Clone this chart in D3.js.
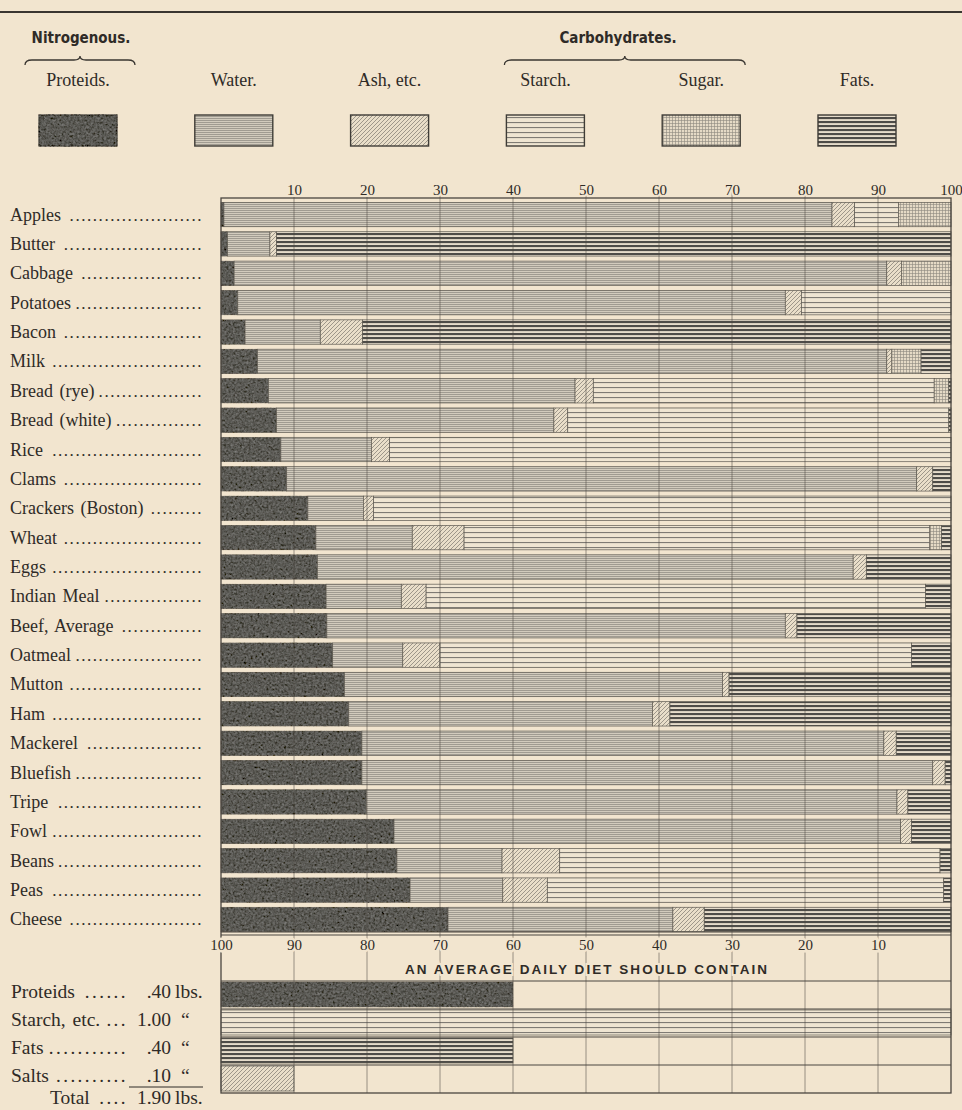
<!DOCTYPE html>
<html lang="en">
<head>
<meta charset="UTF-8">
<title>Composition of Foods</title>
<script src="https://cdn.jsdelivr.net/npm/d3@7"></script>
<style>
  html, body { margin: 0; padding: 0; background: #f2e5cf; }
  svg { display: block; }
  text { font-family: "Liberation Serif", "DejaVu Serif", serif; fill: #2f2b27; }
  .head { font-family: "Liberation Sans Narrow", "DejaVu Sans Condensed", sans-serif; font-weight: bold; font-size: 15px; }
  .tick text { font-family: "Liberation Serif", serif; font-size: 15px; fill: #2f2b27; }
</style>
</head>
<body>
<svg width="962" height="1110"></svg>
<script>
// foods, top to bottom
var foods = ["Apples", "Butter", "Cabbage", "Potatoes", "Bacon", "Milk", "Bread (rye)",
  "Bread (white)", "Rice", "Clams", "Crackers (Boston)", "Wheat", "Eggs", "Indian Meal",
  "Beef, Average", "Oatmeal", "Mutton", "Ham", "Mackerel", "Bluefish", "Tripe", "Fowl",
  "Beans", "Peas", "Cheese"];

// per cent of each food
var proteids = [0.4, 0.9, 1.8, 2.3, 3.3, 5.0, 6.5, 7.6, 8.2, 9.0, 11.9, 13.0, 13.2, 14.4, 14.5, 15.3, 16.9, 17.5, 19.3, 19.3, 19.9, 23.7, 24.1, 25.9, 31.1];
var water    = [83.3, 5.8, 89.4, 75.0, 10.3, 86.2, 42.0, 38.0, 12.4, 86.3, 7.6, 13.2, 73.4, 10.3, 62.8, 9.6, 51.8, 41.6, 71.5, 78.2, 72.7, 69.4, 14.4, 12.7, 30.8];
var ash      = [3.1, 0.9, 2.0, 2.2, 5.8, 0.7, 2.5, 1.9, 2.5, 2.2, 1.4, 7.1, 1.8, 3.4, 1.6, 5.1, 0.9, 2.4, 1.7, 1.7, 1.5, 1.5, 7.9, 6.1, 4.3];
var starch   = [6.0, 0, 0, 20.5, 0, 0, 46.7, 52.2, 76.9, 0, 79.1, 63.8, 0, 68.4, 0, 64.6, 0, 0, 0, 0, 0, 0, 52.1, 54.3, 0];
var sugar    = [7.2, 0, 6.8, 0, 0, 4.0, 2.0, 0, 0, 0, 0, 1.6, 0, 0, 0, 0, 0, 0, 0, 0, 0, 0, 0, 0, 0];
var fats     = [0, 92.4, 0, 0, 80.6, 4.1, 0.3, 0.3, 0, 2.5, 0, 1.3, 11.6, 3.5, 21.1, 5.4, 30.4, 38.5, 7.5, 0.8, 5.9, 5.4, 1.5, 1.0, 33.8];

var keys = ["proteids", "water", "ash", "starch", "sugar", "fats"];
var legendNames = ["Proteids.", "Water.", "Ash, etc.", "Starch.", "Sugar.", "Fats."];
var topTicks = [10, 20, 30, 40, 50, 60, 70, 80, 90, 100];
var bottomTicks = [100, 90, 80, 70, 60, 50, 40, 30, 20, 10];

// average daily diet
var dietNames = ["Proteids", "Starch, etc.", "Fats", "Salts"];
var dietAmounts = [".40", "1.00", ".40", ".10"];
var dietUnits = ["lbs.", "\u201C", "\u201C", "\u201C"];
var dietValues = [40, 100, 40, 10];
var dietKeys = ["proteids", "starch", "fats", "ash"];
var dietTotal = "1.90";

var paper = "#f2e5cf", ink = "#2f2b27", rule = "#4a4640";
var svg = d3.select("svg");
var defs = svg.append("defs");

// textures
function pattern(id, w, h, bg) {
  var p = defs.append("pattern").attr("id", "pat-" + id)
      .attr("patternUnits", "userSpaceOnUse").attr("width", w).attr("height", h);
  p.append("rect").attr("width", w).attr("height", h).attr("fill", bg);
  return p;
}
pattern("proteids", 4, 4, "#5b5a55");
pattern("water", 6, 2, "#d2cbbd").append("rect")
    .attr("width", 6).attr("height", 0.8).attr("fill", "#948f86");
pattern("starch", 6, 5, "#efe5d2").append("rect")
    .attr("y", 2).attr("width", 6).attr("height", 1.1).attr("fill", "#7f7b74");
pattern("fats", 6, 4, "#e6dccb").append("rect")
    .attr("y", 1).attr("width", 6).attr("height", 2.1).attr("fill", "#4e4c48");
var su = pattern("sugar", 3, 3, "#e5dac6");
su.append("rect").attr("width", 3).attr("height", 0.6).attr("fill", "#8d887f");
su.append("rect").attr("width", 0.6).attr("height", 3).attr("fill", "#8d887f");
pattern("ash", 4, 4, "#e9dec9").append("path")
    .attr("d", "M-1,1 l2,-2 M0,4 l4,-4 M3,5 l2,-2")
    .attr("stroke", "#7c776e").attr("stroke-width", 0.7);

// mottled ink for the proteid bars
var f = defs.append("filter").attr("id", "mottle");
f.append("feTurbulence").attr("type", "fractalNoise").attr("baseFrequency", 0.45)
    .attr("numOctaves", 2).attr("seed", 4).attr("result", "noise");
f.append("feColorMatrix").attr("in", "noise").attr("type", "matrix")
    .attr("values", "0.33 0.33 0.33 0 0  0.33 0.33 0.33 0 0  0.33 0.33 0.33 0 0  0 0 0 0 1")
    .attr("result", "gray");
f.append("feComposite").attr("in", "SourceGraphic").attr("in2", "gray")
    .attr("operator", "arithmetic").attr("k1", 0).attr("k2", 1).attr("k3", 0.4).attr("k4", -0.2)
    .attr("result", "mix");
f.append("feComposite").attr("in", "mix").attr("in2", "SourceGraphic").attr("operator", "in");

// top rule
svg.append("line").attr("x1", 0).attr("x2", 962).attr("y1", 12).attr("y2", 12)
    .attr("stroke", "#3a3631").attr("stroke-width", 2);

// legend
var lx = d3.scalePoint().domain(keys).range([78, 857]);
var leg = svg.append("g").selectAll("g").data(keys).join("g");
leg.append("text").attr("x", function (d) { return lx(d); }).attr("y", 86)
    .attr("text-anchor", "middle").style("font-size", "18px")
    .text(function (d, i) { return legendNames[i]; });
leg.append("rect").attr("x", function (d) { return lx(d) - 39; }).attr("y", 115)
    .attr("width", 78).attr("height", 31)
    .attr("fill", function (d) { return "url(#pat-" + d + ")"; })
    .attr("filter", function (d) { return d === "proteids" ? "url(#mottle)" : null; })
    .attr("stroke", "#3f3c37").attr("stroke-width", 1.4);

function brace(x1, x2, yb) {
  var m = (x1 + x2) / 2;
  return "M" + x1 + "," + (yb + 5) + " Q" + x1 + "," + yb + " " + (x1 + 7) + "," + yb +
    " L" + (m - 6) + "," + yb + " Q" + m + "," + yb + " " + m + "," + (yb - 4) +
    " Q" + m + "," + yb + " " + (m + 6) + "," + yb +
    " L" + (x2 - 7) + "," + yb + " Q" + x2 + "," + yb + " " + x2 + "," + (yb + 5);
}
svg.append("text").attr("class", "head").attr("x", 81).attr("y", 43)
    .attr("text-anchor", "middle").text("Nitrogenous.");
svg.append("text").attr("class", "head").attr("x", 618).attr("y", 43)
    .attr("text-anchor", "middle").text("Carbohydrates.");
svg.append("path").attr("d", brace(lx("proteids") - 53, lx("proteids") + 57, 60))
    .attr("fill", "none").attr("stroke", "#3a3631").attr("stroke-width", 1.3);
svg.append("path").attr("d", brace(lx("starch") - 41, lx("sugar") + 44, 60))
    .attr("fill", "none").attr("stroke", "#3a3631").attr("stroke-width", 1.3);

// scales
var x = d3.scaleLinear().domain([0, 100]).range([221, 951]);
var xr = d3.scaleLinear().domain([100, 0]).range([221, 951]);
var y = d3.scaleBand().domain(foods).range([200, 934]).paddingInner(0.17).paddingOuter(0.08);
var yd = d3.scaleBand().domain(dietNames).range([981, 1093]);

// bars
var table = foods.map(function (food, i) {
  return { food: food, proteids: proteids[i], water: water[i], ash: ash[i],
           starch: starch[i], sugar: sugar[i], fats: fats[i] };
});
var series = d3.stack().keys(keys)(table);

svg.append("g").selectAll("g").data(series).join("g")
    .attr("fill", function (d) { return "url(#pat-" + d.key + ")"; })
    .attr("filter", function (d) { return d.key === "proteids" ? "url(#mottle)" : null; })
    .selectAll("rect")
    .data(function (d) { return d.filter(function (s) { return s[1] - s[0] > 0; }); })
    .join("rect")
    .attr("x", function (d) { return x(d[0]); })
    .attr("width", function (d) { return x(d[1]) - x(d[0]); })
    .attr("y", function (d) { return y(d.data.food); })
    .attr("height", y.bandwidth())
    .attr("stroke", "#5d5951").attr("stroke-width", 0.7);

// diet bars
svg.append("g").selectAll("rect").data(dietNames).join("rect")
    .attr("x", xr(100))
    .attr("width", function (d, i) { return xr(100 - dietValues[i]) - xr(100); })
    .attr("y", function (d) { return yd(d) + 1; })
    .attr("height", yd.bandwidth() - 3)
    .attr("fill", function (d, i) { return "url(#pat-" + dietKeys[i] + ")"; })
    .attr("filter", function (d, i) { return dietKeys[i] === "proteids" ? "url(#mottle)" : null; })
    .attr("stroke", "#5d5951").attr("stroke-width", 0.7);

// grid lines and frames
var grid = svg.append("g").attr("stroke", rule);
grid.selectAll("line.v").data(topTicks.slice(0, 9)).join("line")
    .attr("x1", function (d) { return x(d); }).attr("x2", function (d) { return x(d); })
    .attr("y1", 192).attr("y2", 1093).attr("stroke-width", 0.9).attr("opacity", 0.6);
grid.append("rect").attr("x", x(0)).attr("y", 198).attr("width", x(100) - x(0))
    .attr("height", 1093 - 198).attr("fill", "none").attr("stroke-width", 1.3);
grid.selectAll("line.h").data([932, 935]).join("line")
    .attr("x1", x(0)).attr("x2", x(100))
    .attr("y1", function (d) { return d; }).attr("y2", function (d) { return d; })
    .attr("stroke-width", 1);
grid.selectAll("line.d").data(dietNames).join("line")
    .attr("x1", x(0)).attr("x2", x(100))
    .attr("y1", function (d) { return yd(d); }).attr("y2", function (d) { return yd(d); })
    .attr("stroke-width", 1);

// axes
var topAxis = svg.append("g").attr("transform", "translate(0,195)")
    .call(d3.axisTop(x).tickValues(topTicks).tickSize(0).tickPadding(0));
topAxis.select(".domain").remove();
topAxis.selectAll("text").attr("stroke", paper).attr("stroke-width", 4).attr("paint-order", "stroke");

var botAxis = svg.append("g").attr("transform", "translate(0,939)")
    .call(d3.axisBottom(xr).tickValues(bottomTicks).tickSize(0).tickPadding(0));
botAxis.select(".domain").remove();
botAxis.selectAll("text").attr("stroke", paper).attr("stroke-width", 5).attr("paint-order", "stroke");

svg.append("text").attr("x", 586).attr("y", 974).attr("text-anchor", "middle")
    .attr("textLength", 362).attr("lengthAdjust", "spacing")
    .style("font-family", "'Liberation Sans', sans-serif").style("font-weight", "bold")
    .style("font-size", "13.5px").attr("stroke", paper).attr("stroke-width", 4)
    .attr("paint-order", "stroke")
    .text("AN AVERAGE DAILY DIET SHOULD CONTAIN");

// dotted leaders
function leader(sel, endX, size, step) {
  sel.each(function () {
    var t = d3.select(this);
    var start = +t.attr("x") + this.getComputedTextLength() + 4;
    var n = Math.max(0, Math.floor((endX - start) / step));
    d3.select(this.parentNode).append("text")
        .attr("x", endX - n * step).attr("y", t.attr("y"))
        .style("font-size", size + "px").attr("letter-spacing", step - size * 0.25)
        .text(d3.range(n).map(function () { return "."; }).join(""));
  });
}

var rows = svg.append("g").selectAll("g").data(foods).join("g");
rows.append("text").attr("x", 10)
    .attr("y", function (d) { return y(d) + y.bandwidth() / 2 + 6; })
    .style("font-size", "18px").attr("word-spacing", 2)
    .text(function (d) { return d; })
    .call(leader, 203, 17, 5.8);

var drows = svg.append("g").selectAll("g").data(dietNames).join("g");
drows.append("text").attr("x", 11)
    .attr("y", function (d) { return yd(d) + yd.bandwidth() / 2 + 3; })
    .style("font-size", "19.5px").attr("word-spacing", 2)
    .text(function (d) { return d; })
    .call(leader, 128, 19, 7.2);
drows.append("text").attr("x", 171).attr("text-anchor", "end")
    .attr("y", function (d) { return yd(d) + yd.bandwidth() / 2 + 3; })
    .style("font-size", "19.5px")
    .text(function (d, i) { return dietAmounts[i]; });
drows.append("text").attr("x", function (d, i) { return dietUnits[i] === "lbs." ? 175 : 181; })
    .attr("y", function (d) { return yd(d) + yd.bandwidth() / 2 + 3; })
    .style("font-size", "19.5px")
    .text(function (d, i) { return dietUnits[i]; });

svg.append("line").attr("x1", 129).attr("x2", 203).attr("y1", 1087).attr("y2", 1087)
    .attr("stroke", ink).attr("stroke-width", 1);
var tot = svg.append("g");
tot.append("text").attr("x", 50).attr("y", 1104).style("font-size", "19.5px").text("Total")
    .call(leader, 128, 19, 7.2);
tot.append("text").attr("x", 171).attr("y", 1104).attr("text-anchor", "end")
    .style("font-size", "19.5px").text(dietTotal);
tot.append("text").attr("x", 175).attr("y", 1104).style("font-size", "19.5px").text("lbs.");
</script>
</body>
</html>
